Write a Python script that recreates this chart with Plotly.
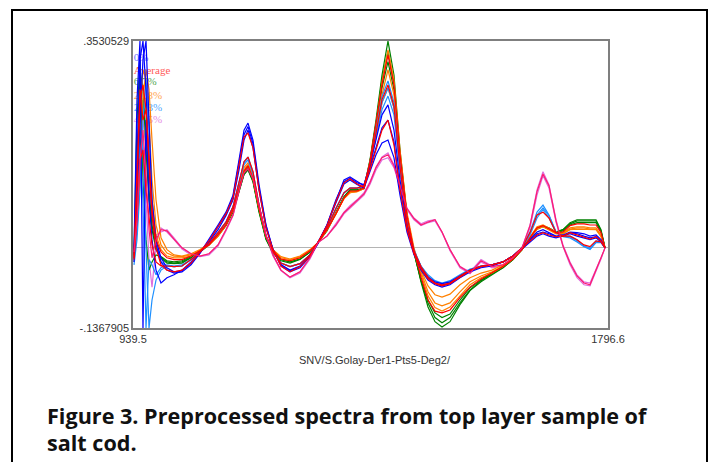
import plotly.graph_objects as go

# Wavelength grid (nm)
WL = [941.3, 946.7, 952.1, 957.5, 963.0, 968.4, 973.8, 981.0, 990.0, 1000.8,
      1013.5, 1027.9, 1044.2, 1060.4, 1076.6, 1092.9, 1107.3, 1120.0, 1130.8, 1139.8,
      1147.0, 1156.0, 1166.9, 1179.5, 1192.1, 1206.5, 1222.8, 1240.8, 1258.9, 1273.3,
      1289.5, 1305.7, 1320.2, 1331.0, 1343.7, 1356.3, 1367.1, 1378.0, 1388.8, 1399.6,
      1410.4, 1421.3, 1433.9, 1446.5, 1459.2, 1471.8, 1484.4, 1497.1, 1511.5, 1529.5,
      1547.6, 1567.5, 1587.3, 1607.1, 1625.2, 1641.4, 1655.9, 1668.5, 1679.3, 1690.1,
      1702.8, 1715.4, 1728.1, 1740.7, 1753.3, 1764.1, 1775.0, 1784.0, 1791.2]

# 0% group (blue)
BLUE_A = [-0.012, 0.167, 0.321, 0.353, 0.270, 0.133, 0.056, 0.005, -0.024, -0.038,
          -0.043, -0.041, -0.029, -0.009, 0.014, 0.039, 0.061, 0.090, 0.150, 0.201,
          0.213, 0.184, 0.108, 0.039, -0.003, -0.029, -0.038, -0.031, -0.012, 0.009,
          0.039, 0.082, 0.113, 0.119, 0.111, 0.108, 0.142, 0.184, 0.227, 0.244,
          0.201, 0.116, 0.039, -0.007, -0.038, -0.055, -0.063, -0.067, -0.063, -0.051,
          -0.041, -0.034, -0.031, -0.024, -0.014, 0.000, 0.014, 0.027, 0.031, 0.026,
          0.020, 0.022, 0.027, 0.026, 0.024, 0.020, 0.022, 0.014, 0.000]
BLUE_B = [-0.003, 0.253, 0.353, -0.140, 0.218, 0.082, 0.014, -0.038, -0.060, -0.051,
          -0.046, -0.038, -0.024, -0.007, 0.010, 0.031, 0.055, 0.082, 0.133, 0.184,
          0.201, 0.171, 0.099, 0.034, -0.003, -0.031, -0.041, -0.034, -0.015, 0.007,
          0.038, 0.077, 0.109, 0.116, 0.108, 0.102, 0.130, 0.159, 0.179, 0.184,
          0.154, 0.090, 0.027, -0.012, -0.034, -0.050, -0.058, -0.061, -0.058, -0.048,
          -0.038, -0.032, -0.029, -0.024, -0.014, -0.002, 0.010, 0.020, 0.024, 0.020,
          0.017, 0.020, 0.024, 0.020, 0.017, 0.014, 0.017, 0.010, 0.000]
BLUE_C = [-0.024, 0.082, 0.218, 0.321, 0.353, 0.201, 0.082, 0.014, -0.017, -0.034,
          -0.041, -0.039, -0.027, -0.009, 0.012, 0.036, 0.058, 0.087, 0.142, 0.193,
          0.207, 0.178, 0.102, 0.038, -0.003, -0.029, -0.039, -0.032, -0.014, 0.009,
          0.039, 0.080, 0.116, 0.121, 0.113, 0.106, 0.137, 0.171, 0.205, 0.218,
          0.181, 0.102, 0.034, -0.009, -0.036, -0.051, -0.061, -0.065, -0.061, -0.050,
          -0.039, -0.032, -0.029, -0.024, -0.014, 0.000, 0.012, 0.024, 0.027, 0.024,
          0.019, 0.020, 0.026, 0.024, 0.020, 0.017, 0.019, 0.012, 0.000]

# green group
GREEN_A = [-0.012, 0.082, 0.304, 0.270, 0.167, 0.082, 0.031, -0.003, -0.017, -0.024,
           -0.026, -0.024, -0.017, -0.007, 0.005, 0.022, 0.039, 0.065, 0.099, 0.130,
           0.138, 0.116, 0.065, 0.017, -0.007, -0.020, -0.024, -0.019, -0.007, 0.009,
           0.031, 0.060, 0.087, 0.099, 0.099, 0.102, 0.150, 0.218, 0.295, 0.353,
           0.295, 0.167, 0.056, -0.007, -0.058, -0.101, -0.126, -0.135, -0.126, -0.097,
           -0.073, -0.058, -0.046, -0.034, -0.020, -0.003, 0.017, 0.034, 0.038, 0.034,
           0.027, 0.031, 0.043, 0.048, 0.048, 0.048, 0.048, 0.031, 0.000]
GREEN_B = [-0.017, 0.031, 0.167, 0.253, 0.201, 0.099, 0.039, 0.000, -0.017, -0.026,
           -0.027, -0.026, -0.017, -0.007, 0.005, 0.020, 0.038, 0.061, 0.096, 0.125,
           0.133, 0.113, 0.061, 0.014, -0.009, -0.022, -0.026, -0.020, -0.007, 0.009,
           0.029, 0.058, 0.085, 0.097, 0.097, 0.101, 0.145, 0.205, 0.273, 0.318,
           0.270, 0.154, 0.051, -0.009, -0.055, -0.089, -0.111, -0.119, -0.113, -0.089,
           -0.068, -0.055, -0.044, -0.032, -0.019, -0.003, 0.017, 0.032, 0.036, 0.032,
           0.026, 0.029, 0.039, 0.043, 0.043, 0.043, 0.043, 0.027, 0.000]
GREEN_C = [-0.007, 0.218, 0.321, 0.116, 0.014, -0.038, -0.024, -0.012, -0.015, -0.022,
           -0.024, -0.022, -0.015, -0.005, 0.007, 0.022, 0.039, 0.063, 0.097, 0.126,
           0.135, 0.114, 0.063, 0.015, -0.007, -0.020, -0.024, -0.019, -0.007, 0.009,
           0.031, 0.060, 0.087, 0.099, 0.099, 0.102, 0.148, 0.212, 0.287, 0.335,
           0.283, 0.160, 0.055, -0.007, -0.056, -0.094, -0.119, -0.128, -0.119, -0.094,
           -0.072, -0.056, -0.044, -0.034, -0.020, -0.003, 0.017, 0.034, 0.038, 0.034,
           0.027, 0.031, 0.041, 0.046, 0.046, 0.046, 0.046, 0.029, 0.000]

# orange group
ORANGE_A = [-0.012, 0.116, 0.236, 0.304, 0.287, 0.218, 0.116, 0.039, 0.005, -0.009,
            -0.014, -0.015, -0.012, -0.005, 0.005, 0.020, 0.039, 0.065, 0.102, 0.133,
            0.142, 0.119, 0.068, 0.020, -0.003, -0.017, -0.020, -0.015, -0.005, 0.009,
            0.031, 0.058, 0.085, 0.096, 0.097, 0.102, 0.147, 0.210, 0.283, 0.338,
            0.287, 0.167, 0.060, 0.000, -0.041, -0.075, -0.094, -0.099, -0.094, -0.075,
            -0.058, -0.048, -0.041, -0.031, -0.017, -0.002, 0.019, 0.036, 0.039, 0.034,
            0.027, 0.026, 0.034, 0.036, 0.036, 0.034, 0.034, 0.022, 0.000]
ORANGE_B = [-0.024, 0.031, 0.116, 0.253, 0.304, 0.270, 0.184, 0.082, 0.017, -0.003,
            -0.012, -0.014, -0.010, -0.003, 0.007, 0.022, 0.041, 0.067, 0.104, 0.137,
            0.145, 0.123, 0.070, 0.020, -0.003, -0.015, -0.019, -0.014, -0.003, 0.009,
            0.031, 0.058, 0.084, 0.094, 0.096, 0.101, 0.142, 0.198, 0.261, 0.304,
            0.261, 0.150, 0.051, -0.003, -0.038, -0.065, -0.080, -0.084, -0.079, -0.063,
            -0.051, -0.043, -0.038, -0.029, -0.017, -0.002, 0.017, 0.032, 0.036, 0.031,
            0.024, 0.024, 0.031, 0.032, 0.032, 0.031, 0.031, 0.019, 0.000]
ORANGE_C = [-0.003, 0.150, 0.270, 0.278, 0.236, 0.167, 0.082, 0.022, -0.003, -0.014,
            -0.017, -0.017, -0.014, -0.005, 0.005, 0.020, 0.039, 0.065, 0.101, 0.131,
            0.140, 0.118, 0.067, 0.019, -0.005, -0.019, -0.022, -0.017, -0.005, 0.009,
            0.031, 0.058, 0.084, 0.094, 0.096, 0.101, 0.138, 0.189, 0.248, 0.273,
            0.239, 0.142, 0.048, -0.007, -0.046, -0.082, -0.102, -0.108, -0.101, -0.082,
            -0.063, -0.051, -0.043, -0.032, -0.019, -0.003, 0.017, 0.034, 0.038, 0.032,
            0.026, 0.024, 0.032, 0.034, 0.034, 0.032, 0.032, 0.020, 0.000]

# light-blue group
LBLUE_A = [-0.020, 0.031, 0.167, 0.082, -0.137, -0.020, -0.029, -0.046, -0.034, -0.029,
           -0.031, -0.029, -0.020, -0.007, 0.007, 0.026, 0.044, 0.070, 0.113, 0.147,
           0.155, 0.130, 0.073, 0.020, -0.007, -0.026, -0.032, -0.027, -0.012, 0.009,
           0.034, 0.067, 0.094, 0.102, 0.102, 0.106, 0.145, 0.201, 0.258, 0.285,
           0.248, 0.142, 0.044, -0.003, -0.032, -0.050, -0.060, -0.063, -0.060, -0.048,
           -0.038, -0.031, -0.029, -0.024, -0.014, 0.000, 0.027, 0.061, 0.073, 0.056,
           0.027, 0.020, 0.020, 0.014, 0.003, 0.000, 0.012, 0.010, 0.000]
LBLUE_B = [-0.029, 0.014, 0.099, 0.218, 0.287, 0.201, 0.082, 0.014, -0.024, -0.031,
           -0.032, -0.031, -0.020, -0.007, 0.007, 0.026, 0.044, 0.070, 0.111, 0.142,
           0.150, 0.126, 0.072, 0.020, -0.007, -0.026, -0.032, -0.027, -0.012, 0.009,
           0.034, 0.067, 0.094, 0.102, 0.102, 0.106, 0.140, 0.188, 0.236, 0.259,
           0.227, 0.130, 0.038, -0.007, -0.031, -0.046, -0.056, -0.060, -0.056, -0.046,
           -0.036, -0.031, -0.029, -0.024, -0.014, 0.000, 0.022, 0.051, 0.065, 0.051,
           0.026, 0.019, 0.017, 0.010, 0.002, -0.003, 0.009, 0.009, 0.000]
LBLUE_C = [-0.017, 0.065, 0.201, 0.167, -0.003, -0.137, -0.089, -0.055, -0.038, -0.031,
           -0.032, -0.031, -0.020, -0.007, 0.007, 0.026, 0.044, 0.070, 0.113, 0.145,
           0.154, 0.128, 0.073, 0.020, -0.007, -0.026, -0.032, -0.027, -0.012, 0.009,
           0.034, 0.067, 0.094, 0.102, 0.102, 0.106, 0.142, 0.195, 0.248, 0.273,
           0.239, 0.137, 0.041, -0.005, -0.031, -0.048, -0.058, -0.061, -0.058, -0.048,
           -0.038, -0.031, -0.029, -0.024, -0.014, 0.000, 0.026, 0.056, 0.068, 0.055,
           0.027, 0.020, 0.019, 0.012, 0.003, -0.002, 0.010, 0.010, 0.000]

# violet group
VIOLET_A = [-0.003, 0.065, 0.167, 0.218, 0.167, 0.082, 0.031, 0.022, 0.027, 0.031,
            0.017, 0.000, -0.010, -0.014, -0.010, 0.005, 0.031, 0.056, 0.099, 0.130,
            0.137, 0.119, 0.073, 0.022, -0.012, -0.038, -0.050, -0.041, -0.017, 0.009,
            0.020, 0.041, 0.061, 0.072, 0.082, 0.094, 0.113, 0.138, 0.155, 0.162,
            0.142, 0.108, 0.068, 0.051, 0.041, 0.046, 0.048, 0.027, -0.003, -0.032,
            -0.041, -0.020, -0.031, -0.029, -0.017, 0.000, 0.039, 0.099, 0.130, 0.108,
            0.048, 0.005, -0.024, -0.046, -0.058, -0.060, -0.038, -0.017, 0.000]
VIOLET_B = [-0.012, 0.031, 0.133, 0.184, 0.082, -0.020, -0.067, 0.005, 0.034, 0.027,
            0.014, -0.002, -0.012, -0.015, -0.012, 0.003, 0.029, 0.055, 0.096, 0.126,
            0.133, 0.116, 0.070, 0.020, -0.014, -0.039, -0.051, -0.043, -0.019, 0.009,
            0.020, 0.038, 0.058, 0.068, 0.079, 0.090, 0.108, 0.133, 0.150, 0.154,
            0.137, 0.102, 0.065, 0.048, 0.038, 0.043, 0.046, 0.026, -0.005, -0.034,
            -0.044, -0.024, -0.034, -0.031, -0.019, -0.002, 0.034, 0.090, 0.123, 0.102,
            0.044, 0.002, -0.029, -0.051, -0.063, -0.065, -0.041, -0.019, 0.000]

# averages (red)
RED_A = [-0.017, 0.133, 0.270, 0.218, 0.236, 0.150, 0.056, 0.000, -0.029, -0.038,
         -0.041, -0.038, -0.026, -0.007, 0.012, 0.036, 0.058, 0.085, 0.140, 0.189,
         0.196, 0.171, 0.099, 0.034, -0.003, -0.031, -0.041, -0.032, -0.014, 0.009,
         0.038, 0.079, 0.111, 0.118, 0.109, 0.104, 0.133, 0.167, 0.201, 0.218,
         0.176, 0.099, 0.031, -0.010, -0.036, -0.053, -0.061, -0.065, -0.061, -0.050,
         -0.039, -0.032, -0.029, -0.024, -0.014, 0.000, 0.012, 0.022, 0.026, 0.022,
         0.019, 0.020, 0.026, 0.022, 0.019, 0.015, 0.019, 0.012, 0.000]
RED_B = [-0.014, 0.099, 0.253, 0.278, 0.236, 0.150, 0.065, 0.014, -0.007, -0.017,
         -0.020, -0.020, -0.014, -0.005, 0.005, 0.022, 0.039, 0.065, 0.101, 0.131,
         0.140, 0.118, 0.067, 0.019, -0.005, -0.019, -0.022, -0.017, -0.005, 0.009,
         0.031, 0.058, 0.085, 0.097, 0.097, 0.102, 0.147, 0.210, 0.278, 0.329,
         0.278, 0.159, 0.055, -0.005, -0.050, -0.089, -0.108, -0.111, -0.106, -0.085,
         -0.067, -0.053, -0.043, -0.032, -0.019, -0.003, 0.017, 0.034, 0.038, 0.032,
         0.026, 0.027, 0.038, 0.041, 0.041, 0.039, 0.039, 0.026, 0.000]
RED_C = [-0.020, 0.048, 0.150, 0.167, 0.099, 0.048, 0.005, -0.024, -0.031, -0.031,
         -0.032, -0.031, -0.020, -0.007, 0.007, 0.026, 0.044, 0.070, 0.113, 0.147,
         0.155, 0.130, 0.073, 0.020, -0.007, -0.026, -0.032, -0.027, -0.012, 0.009,
         0.034, 0.067, 0.094, 0.102, 0.102, 0.106, 0.143, 0.196, 0.253, 0.278,
         0.242, 0.138, 0.041, -0.005, -0.032, -0.050, -0.060, -0.063, -0.060, -0.048,
         -0.038, -0.031, -0.029, -0.024, -0.014, 0.000, 0.026, 0.056, 0.061, 0.051,
         0.026, 0.020, 0.020, 0.014, 0.005, 0.002, 0.012, 0.010, 0.000]
RED_D = [-0.007, 0.048, 0.150, 0.201, 0.125, 0.031, -0.017, 0.014, 0.031, 0.029,
         0.015, 0.000, -0.010, -0.014, -0.010, 0.005, 0.031, 0.056, 0.097, 0.128,
         0.135, 0.118, 0.072, 0.022, -0.012, -0.038, -0.050, -0.041, -0.017, 0.009,
         0.020, 0.039, 0.060, 0.070, 0.080, 0.092, 0.111, 0.137, 0.154, 0.159,
         0.140, 0.106, 0.067, 0.050, 0.039, 0.044, 0.048, 0.027, -0.003, -0.032,
         -0.043, -0.022, -0.032, -0.029, -0.017, 0.000, 0.038, 0.096, 0.126, 0.106,
         0.046, 0.003, -0.026, -0.048, -0.060, -0.063, -0.039, -0.017, 0.000]

LEGEND_LABELS = ["0%", "Average", "6.7%", "21.8%", "23.3%", "40.5%"]
LEGEND_COLORS = ["#6f6fff", "#ff5a5a", "#52a852", "#ffa552", "#52a9ff", "#e58ce5"]
LEGEND_Y = [0.323, 0.302, 0.282, 0.259, 0.239, 0.218]

X_RANGE = [939.5, 1796.6]
Y_RANGE = [-0.1367905, 0.3530529]

fig = go.Figure()

# legend text drawn first so that the spectra overlay it
fig.add_trace(go.Scatter(
    x=[941.0] * len(LEGEND_LABELS), y=LEGEND_Y, mode="text",
    text=LEGEND_LABELS, textposition="middle right",
    textfont=dict(family="Liberation Serif", size=11, color=LEGEND_COLORS),
    hoverinfo="skip", showlegend=False))

groups = [
    ("#dd6edd", [VIOLET_A, VIOLET_B]),
    ("#008000", [GREEN_A, GREEN_B, GREEN_C]),
    ("#ff8000", [ORANGE_A, ORANGE_B, ORANGE_C]),
    ("#1e90ff", [LBLUE_A, LBLUE_B, LBLUE_C]),
    ("#0000ff", [BLUE_A, BLUE_B, BLUE_C]),
    ("#ff0000", [RED_A, RED_B, RED_C]),
    ("#ff1a6e", [RED_D]),
]
for color, curves in groups:
    for ys in curves:
        fig.add_trace(go.Scatter(x=WL, y=ys, mode="lines",
                                 line=dict(color=color, width=1.2),
                                 hoverinfo="skip", showlegend=False))

W, H = 711, 462
L, R, T, B = 133, 608, 41, 328
pw, ph = R - L, B - T


def px(xp):
    return (xp - L) / pw


def py(yp):
    return (B - yp) / ph


CAP_FONT = dict(family="Open Sans", size=21.6, color="#111111")

fig.update_layout(
    width=W, height=H,
    margin=dict(l=L, r=W - R, t=T, b=H - B),
    paper_bgcolor="white", plot_bgcolor="white",
    font=dict(family="Liberation Sans", size=11, color="#333333"),
    xaxis=dict(range=X_RANGE, showgrid=False, zeroline=False,
               showline=True, mirror=True, linecolor="#7f7f7f", linewidth=1.5,
               tickvals=X_RANGE, ticktext=["939.5", "1796.6"], ticks="",
               tickfont=dict(family="Liberation Sans", size=11, color="#333333")),
    yaxis=dict(range=Y_RANGE, showgrid=False, zeroline=True,
               zerolinecolor="#b4b4b4", zerolinewidth=1,
               showline=True, mirror=True, linecolor="#7f7f7f", linewidth=1.5,
               tickvals=Y_RANGE, ticktext=["-.1367905", ".3530529"], ticks="",
               tickfont=dict(family="Liberation Sans", size=11, color="#333333")),
    shapes=[dict(type="rect", xref="paper", yref="paper",
                 x0=px(12), x1=px(707), y0=py(475), y1=py(10),
                 line=dict(color="black", width=2), fillcolor="rgba(0,0,0,0)")],
    annotations=[
        dict(text="SNV/S.Golay-Der1-Pts5-Deg2/", xref="paper", yref="paper",
             x=px(375), y=py(360), xanchor="center", yanchor="middle",
             showarrow=False, font=dict(family="Liberation Sans", size=11, color="#333333")),
        dict(text="<b>Figure 3. Preprocessed spectra from top layer sample of</b>",
             xref="paper", yref="paper", x=px(45), y=py(415), xanchor="left",
             yanchor="middle", showarrow=False, font=CAP_FONT),
        dict(text="<b>salt cod.</b>", xref="paper", yref="paper", x=px(45), y=py(442),
             xanchor="left", yanchor="middle", showarrow=False, font=CAP_FONT),
    ],
)

fig.write_html("out.html",
               config={"displayModeBar": False},
               post_script="document.body.style.margin='0';"
                           "document.body.style.overflow='hidden';")
